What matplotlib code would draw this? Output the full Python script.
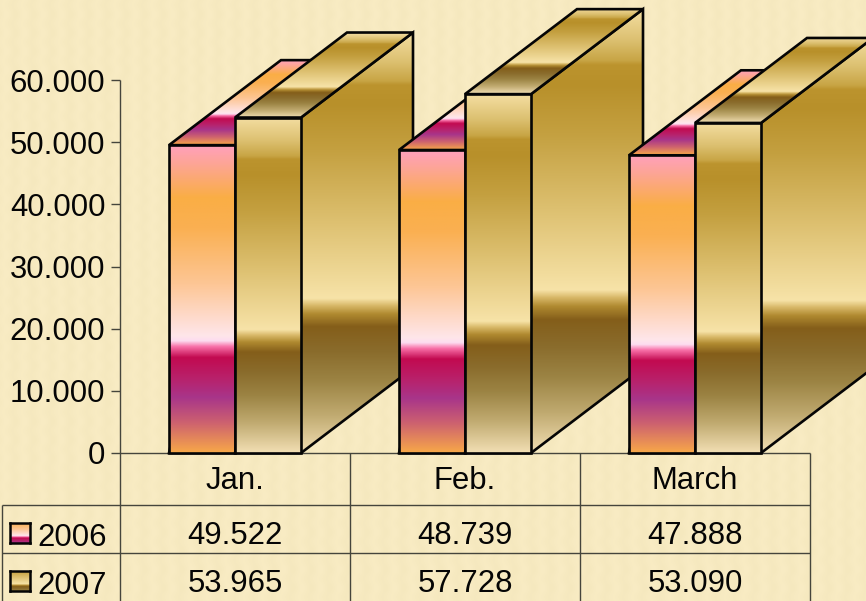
import numpy as np
import matplotlib
matplotlib.use("Agg")
import matplotlib.pyplot as plt
from matplotlib.colors import LinearSegmentedColormap
from matplotlib.patches import Polygon

categories = ["Jan.", "Feb.", "March"]
series_names = ["2006", "2007"]
values_2006 = [49522, 48739, 47888]
values_2007 = [53965, 57728, 53090]
y_ticks = [0, 10000, 20000, 30000, 40000, 50000, 60000]
y_tick_labels = ["0", "10.000", "20.000", "30.000", "40.000", "50.000", "60.000"]
table_2006 = ["49.522", "48.739", "47.888"]
table_2007 = ["53.965", "57.728", "53.090"]

W, H = 866, 601
plt.rcParams['font.family'] = ['Liberation Sans', 'DejaVu Sans']
FS = 22.4

stops_2006 = [(0, "#FFA0BC"), (0.06, "#FDA596"), (0.17, "#FAAE45"), (0.27, "#FAB052"),
              (0.45, "#FDC695"), (0.62, "#FFE6EA"), (0.636, "#FDDCF0"), (0.655, "#F870A8"),
              (0.69, "#C20A50"), (0.76, "#B8226C"), (0.82, "#A8358A"), (0.90, "#CC6070"),
              (1, "#F8A848")]
stops_2007 = [(0, "#F4DEA2"), (0.07, "#DCC070"), (0.115, "#C8A545"), (0.125, "#BC942E"),
              (0.17, "#B8902A"), (0.28, "#C4A040"), (0.45, "#DDC070"), (0.633, "#F7E3A8"),
              (0.65, "#D8B868"), (0.67, "#B08A30"), (0.70, "#845E1A"), (0.76, "#8A6C2C"),
              (0.83, "#9C8444"), (0.91, "#C0AA70"), (1, "#F2DFB4")]
cmaps = [LinearSegmentedColormap.from_list("s06", stops_2006, N=512),
         LinearSegmentedColormap.from_list("s07", stops_2007, N=512)]

fig = plt.figure(figsize=(W / 100, H / 100), dpi=100)

# paper texture behind the chart
xx, yy = np.meshgrid(np.arange(W), np.arange(H))
tex = 1.2 * np.sin(2 * np.pi * xx / 18.5) + 0.7 * np.sin(2 * np.pi * xx / 18.5 + 2) * np.sin(2 * np.pi * yy / 18.5)
bg = np.dstack([247 + tex, 234 + tex, 193 + 1.6 * tex]).clip(0, 255) / 255
fig.figimage(bg, 0, 0, zorder=-5)

L, R, T, B = 120, 810, 80, 453
ax = fig.add_axes([L / W, 1 - B / H, (R - L) / W, (B - T) / H])
ax.patch.set_alpha(0)
ax.set_xlim(0, len(categories))
ax.set_ylim(0, 60000)

px_x = len(categories) / (R - L)
px_y = 60000 / (B - T)
bar_w = 66 * px_x
dep_x = 112 * px_x
dep_y = 85 * px_y
grad = np.linspace(0, 1, 512).reshape(-1, 1)
LINE = "#050505"
LW = 1.9


def face(pts, cmap, z):
    pts = np.array(pts)
    im = ax.imshow(grad, cmap=cmap, aspect="auto", origin="upper", interpolation="bilinear",
                   extent=(pts[:, 0].min(), pts[:, 0].max(), pts[:, 1].min(), pts[:, 1].max()), zorder=z)
    clip = Polygon(pts, closed=True, transform=ax.transData)
    im.set_clip_path(clip)
    im.set_clip_box(fig.bbox)
    ax.add_patch(Polygon(pts, closed=True, fill=False, edgecolor=LINE, lw=LW,
                         joinstyle="miter", clip_on=False, zorder=z + 0.1))


z = 3
for i in range(len(categories)):
    c = i + 0.5
    for k, vals in enumerate([values_2006, values_2007]):
        x0 = c - bar_w + k * bar_w
        x1 = x0 + bar_w
        v = vals[i]
        face([(x0, 0), (x1, 0), (x1 + dep_x, dep_y), (x1 + dep_x, v + dep_y), (x1, v)], cmaps[k], z)
        face([(x0, v), (x1, v), (x1 + dep_x, v + dep_y), (x0 + dep_x, v + dep_y)], cmaps[k], z + 1)
        face([(x0, 0), (x1, 0), (x1, v), (x0, v)], cmaps[k], z + 2)
        z += 3

ax.set_xlim(0, len(categories))
ax.set_ylim(0, 60000)
ax.set_yticks(y_ticks, y_tick_labels, fontsize=FS, color="#050505")
ax.tick_params(axis="y", length=6.5, width=1.0, color="#45453c", pad=4)
ax.set_xticks([])
for s in ax.spines.values():
    s.set_visible(False)


def fy(p):
    return (B - p) / (B - T)


def fx(p):
    return (p - L) / (R - L)


def rule(x0, y0, x1, y1):
    ax.plot([fx(x0), fx(x1)], [fy(y0), fy(y1)], transform=ax.transAxes, color="#45453c",
            lw=1.0, clip_on=False, zorder=1, solid_capstyle="butt")


rule(120, 80, 120, 601)
rule(120, 453, 810, 453)
rule(2, 505, 810, 505)
rule(2, 553, 810, 553)
rule(2.5, 505, 2.5, 601)
for px in (350, 580, 810):
    rule(px, 453, px, 601)

btrans = ax.get_xaxis_transform()
for i, name in enumerate(categories):
    ax.text(i + 0.5, fy(477.5), name, transform=btrans, ha="center", va="center_baseline", fontsize=FS,
            color="#050505", clip_on=False)
    ax.text(i + 0.5, fy(532.5), table_2006[i], transform=btrans, ha="center", va="center_baseline", fontsize=FS,
            color="#050505", clip_on=False)
    ax.text(i + 0.5, fy(580.5), table_2007[i], transform=btrans, ha="center", va="center_baseline", fontsize=FS,
            color="#050505", clip_on=False)

for k, (name, top) in enumerate(zip(series_names, (523, 571))):
    sw = fig.add_axes([10 / W, 1 - (top + 20) / H, 20 / W, 20 / H])
    sw.imshow(grad[140:425], cmap=cmaps[k], aspect="auto", origin="upper", vmin=0, vmax=1)
    sw.set_xticks([])
    sw.set_yticks([])
    for s in sw.spines.values():
        s.set_linewidth(1.8)
        s.set_color(LINE)
    fig.text(37 / W, 1 - (top + 11) / H, name, ha="left", va="center_baseline", fontsize=FS, color="#050505")

fig.savefig("out.png", dpi=100)
